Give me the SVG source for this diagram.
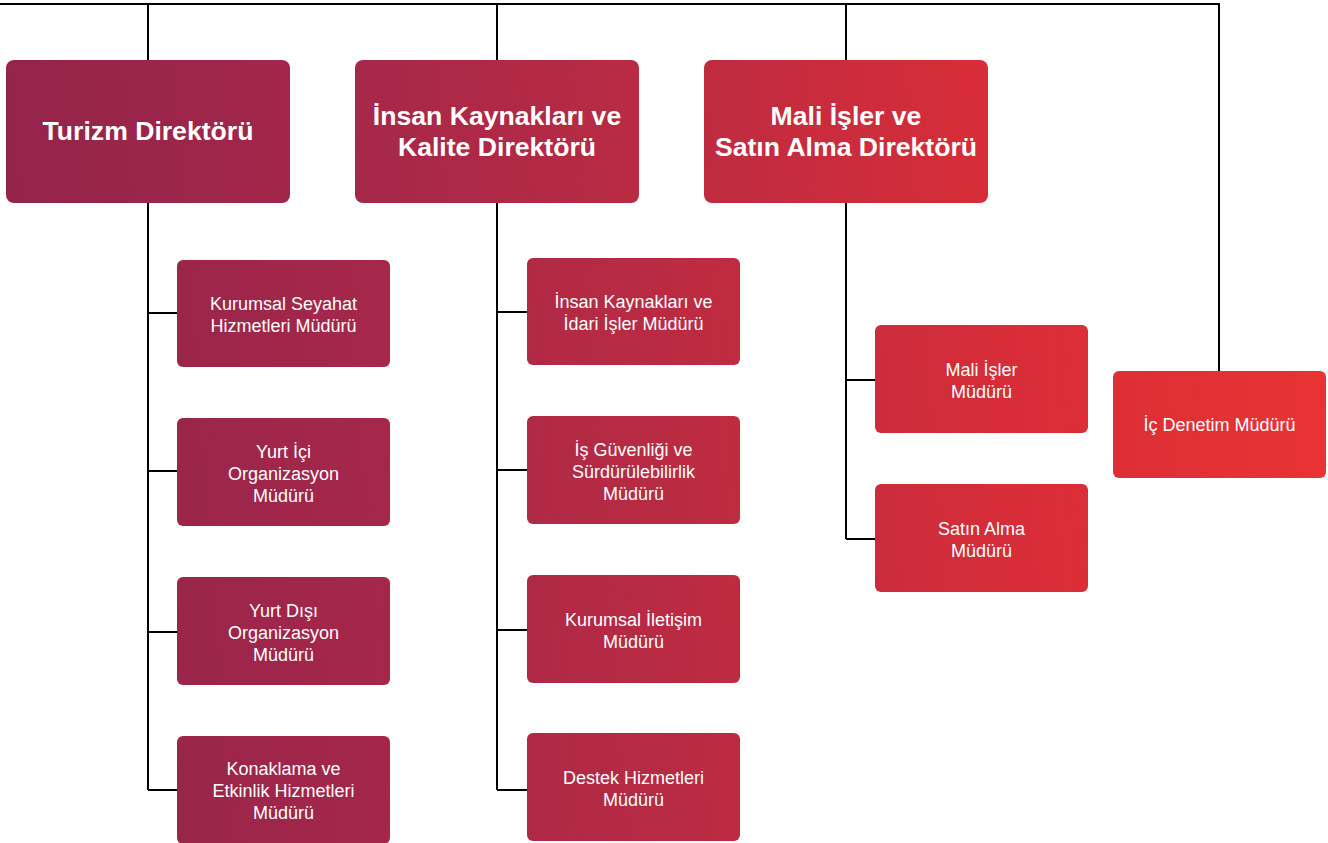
<svg xmlns="http://www.w3.org/2000/svg" width="1328" height="843" viewBox="0 0 1328 843">
<defs>
<linearGradient id="g" gradientUnits="userSpaceOnUse" x1="0" y1="300" x2="1328" y2="200">
<stop offset="0" stop-color="#93244A"/>
<stop offset="0.25" stop-color="#A3274A"/>
<stop offset="0.5" stop-color="#BA2B42"/>
<stop offset="0.75" stop-color="#D72D38"/>
<stop offset="1" stop-color="#EA3333"/>
</linearGradient>
</defs>
<style>
.ln{stroke:#000;stroke-width:2;fill:none}
.dir{fill:url(#g)}
.sub{fill:url(#g)}
.td{font-family:"Liberation Sans",Arial,sans-serif;font-weight:bold;font-size:26.6px;fill:#fff;text-anchor:middle}
.ts{font-family:"Liberation Sans",Arial,sans-serif;font-size:18px;fill:#fff;text-anchor:middle}
</style>
<rect width="1328" height="843" fill="#fff"/>
<g id="connectors">
<path class="ln" d="M0 4H1219V371"/>
<path class="ln" d="M148 4V790M148 313H177M148 471H177M148 632H177M148 790H177"/>
<path class="ln" d="M497 4V790M497 312H527M497 470H527M497 630H527M497 790H527"/>
<path class="ln" d="M846 4V539M846 380H875M846 539H875"/>
</g>
<g id="turizm"><rect class="dir" x="6" y="60" width="284" height="143" rx="8"/><text class="td" x="148" y="140">Turizm Direktörü</text></g>
<g id="insan"><rect class="dir" x="355" y="60" width="284" height="143" rx="8"/><text class="td" x="497" y="125">İnsan Kaynakları ve</text><text class="td" x="497" y="156">Kalite Direktörü</text></g>
<g id="mali"><rect class="dir" x="704" y="60" width="284" height="143" rx="8"/><text class="td" x="846" y="125">Mali İşler ve</text><text class="td" x="846" y="156">Satın Alma Direktörü</text></g>
<g id="kurumsal-seyahat"><rect class="sub" x="177" y="260" width="213" height="107" rx="6"/><text class="ts" x="283.5" y="310">Kurumsal Seyahat</text><text class="ts" x="283.5" y="332">Hizmetleri Müdürü</text></g>
<g id="yurt-ici"><rect class="sub" x="177" y="418" width="213" height="108" rx="6"/><text class="ts" x="283.5" y="457.5">Yurt İçi</text><text class="ts" x="283.5" y="479.5">Organizasyon</text><text class="ts" x="283.5" y="501.5">Müdürü</text></g>
<g id="yurt-disi"><rect class="sub" x="177" y="577" width="213" height="108" rx="6"/><text class="ts" x="283.5" y="616.5">Yurt Dışı</text><text class="ts" x="283.5" y="638.5">Organizasyon</text><text class="ts" x="283.5" y="660.5">Müdürü</text></g>
<g id="konaklama"><rect class="sub" x="177" y="736" width="213" height="108" rx="6"/><text class="ts" x="283.5" y="774.5">Konaklama ve</text><text class="ts" x="283.5" y="796.5">Etkinlik Hizmetleri</text><text class="ts" x="283.5" y="818.5">Müdürü</text></g>
<g id="ik-idari"><rect class="sub" x="527" y="258" width="213" height="107" rx="6"/><text class="ts" x="633.5" y="308">İnsan Kaynakları ve</text><text class="ts" x="633.5" y="330">İdari İşler Müdürü</text></g>
<g id="is-guvenligi"><rect class="sub" x="527" y="416" width="213" height="108" rx="6"/><text class="ts" x="633.5" y="455.5">İş Güvenliği ve</text><text class="ts" x="633.5" y="477.5">Sürdürülebilirlik</text><text class="ts" x="633.5" y="499.5">Müdürü</text></g>
<g id="kurumsal-iletisim"><rect class="sub" x="527" y="575" width="213" height="108" rx="6"/><text class="ts" x="633.5" y="625.5">Kurumsal İletişim</text><text class="ts" x="633.5" y="647.5">Müdürü</text></g>
<g id="destek"><rect class="sub" x="527" y="733" width="213" height="108" rx="6"/><text class="ts" x="633.5" y="783.5">Destek Hizmetleri</text><text class="ts" x="633.5" y="805.5">Müdürü</text></g>
<g id="mali-isler"><rect class="sub" x="875" y="325" width="213" height="108" rx="6"/><text class="ts" x="981.5" y="375.5">Mali İşler</text><text class="ts" x="981.5" y="397.5">Müdürü</text></g>
<g id="satin-alma"><rect class="sub" x="875" y="484" width="213" height="108" rx="6"/><text class="ts" x="981.5" y="534.5">Satın Alma</text><text class="ts" x="981.5" y="556.5">Müdürü</text></g>
<g id="ic-denetim"><rect class="sub" x="1113" y="371" width="213" height="107" rx="6"/><text class="ts" x="1219.5" y="431">İç Denetim Müdürü</text></g>
</svg>
